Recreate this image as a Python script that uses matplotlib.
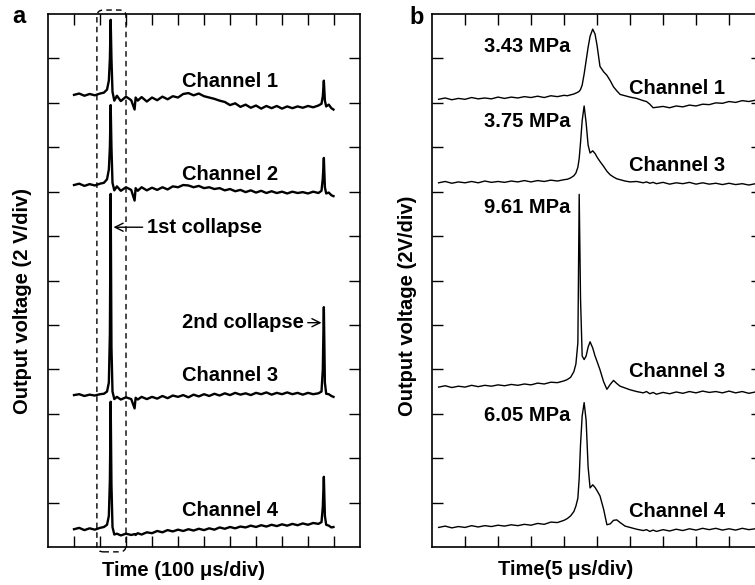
import matplotlib
matplotlib.use("Agg")
import matplotlib.pyplot as plt
from matplotlib.patches import FancyBboxPatch

plt.rcParams['font.family'] = ['Liberation Sans', 'DejaVu Sans']
plt.rcParams['font.weight'] = 'bold'

# ---- panel a: 100 us/div, 2 V/div (values in divisions) ----
time_a = [1.0, 1.2, 1.4, 1.6, 1.8, 2.0,
          2.15, 2.27, 2.34, 2.38, 2.41, 2.44, 2.48, 2.55, 2.65,
          2.8, 3.0, 3.2,
          3.33, 3.37, 3.45,
          3.6, 3.8,
          4.0, 4.2, 4.4, 4.6, 4.8, 5.0, 5.2, 5.4, 5.6, 5.8, 6.0, 6.2, 6.4, 6.6, 6.8,
          7.0, 7.2, 7.4, 7.6, 7.8, 8.0, 8.2, 8.4, 8.6, 8.8, 9.0, 9.2, 9.4, 9.6, 9.8,
          10.0, 10.2, 10.4,
          10.52, 10.57, 10.61, 10.65, 10.7,
          10.8, 10.9, 10.98]

ch1_a = [10.18, 10.21, 10.16, 10.20, 10.17, 10.21,
         10.23, 10.30, 10.50, 11.0, 11.87, 11.0, 10.25, 10.05, 10.16,
         10.04, 10.14, 10.06,
         9.85, 10.12, 10.05,
         10.13, 10.03,
         10.12, 10.06, 10.14, 10.08, 10.15, 10.12, 10.20, 10.22, 10.17, 10.21, 10.15, 10.12, 10.09, 10.05, 10.02,
         9.95, 9.99, 9.91, 9.96, 9.89, 9.94, 9.87, 9.93, 9.88, 9.93, 9.87, 9.92, 9.88, 9.92, 9.89,
         9.93, 9.90, 9.94,
         9.98, 10.15, 10.5, 10.05, 9.92,
         9.96, 9.88, 9.85]

ch2_a = [8.15, 8.18, 8.13, 8.17, 8.14, 8.18,
         8.20, 8.28, 8.50, 9.0, 9.95, 9.0, 8.20, 8.03, 8.12,
         8.02, 8.10, 8.04,
         7.80, 8.08, 8.02,
         8.10, 8.03,
         8.09, 8.04, 8.10, 8.05, 8.12, 8.10, 8.15, 8.14, 8.10, 8.13, 8.08, 8.10, 8.06, 8.08, 8.03,
         8.06, 8.01, 8.04, 7.99, 8.03, 7.98, 8.02, 7.97, 8.01, 7.97, 8.00, 7.96, 8.00, 7.97, 7.99,
         7.96, 8.00, 7.97,
         8.02, 8.30, 8.76, 8.10, 7.96,
         7.98, 7.92, 7.90]

ch3_a = [3.42, 3.44, 3.40, 3.43, 3.41, 3.44,
         3.45, 3.50, 3.70, 4.80, 7.95, 4.50, 3.50, 3.33, 3.38,
         3.32, 3.37, 3.33,
         3.12, 3.36, 3.32,
         3.38, 3.33,
         3.38, 3.34, 3.40, 3.35, 3.41, 3.38, 3.42, 3.37, 3.43, 3.39, 3.44, 3.40, 3.45, 3.41, 3.46,
         3.42, 3.47, 3.43, 3.46, 3.42, 3.47, 3.44, 3.48, 3.43, 3.47, 3.44, 3.48, 3.44, 3.47, 3.43,
         3.47, 3.44, 3.46,
         3.50, 4.00, 5.40, 3.70, 3.45,
         3.44, 3.40, 3.38]

ch4_a = [0.40, 0.43, 0.38, 0.42, 0.39, 0.43,
         0.45, 0.50, 0.70, 1.50, 3.27, 1.40, 0.45, 0.28, 0.30,
         0.26, 0.30, 0.27,
         0.29, 0.27, 0.31,
         0.28, 0.33,
         0.31, 0.36, 0.33, 0.38, 0.35, 0.39, 0.36, 0.40, 0.37, 0.41, 0.38, 0.42, 0.39, 0.44, 0.41,
         0.45, 0.42, 0.46, 0.44, 0.48, 0.45, 0.49, 0.46, 0.50, 0.47, 0.51, 0.48, 0.52, 0.49, 0.53,
         0.50, 0.54, 0.52,
         0.56, 0.90, 1.58, 0.70, 0.50,
         0.48, 0.44, 0.45]

labels_a = ["Channel 1", "Channel 2", "Channel 3", "Channel 4"]

# ---- panel b: 5 us/div, 2 V/div ----
time_b = [0.2, 0.4, 0.6, 0.8, 1.0, 1.2, 1.4, 1.6, 1.8, 2.0, 2.2, 2.4, 2.6, 2.8, 3.0, 3.2, 3.4, 3.6, 3.8, 4.0,
          4.1, 4.2, 4.3, 4.36, 4.42, 4.46, 4.5, 4.55, 4.61, 4.67, 4.73, 4.79, 4.87, 4.94, 5.0, 5.09, 5.2, 5.3, 5.4, 5.5,
          5.6, 5.7, 5.85, 6.0, 6.2, 6.4, 6.5, 6.6, 6.7, 6.8, 7.0, 7.2, 7.4, 7.6, 7.8, 8.0, 8.2, 8.4, 8.6, 8.8,
          9.0, 9.2, 9.4, 9.6, 9.8, 10.0]

ch1_b = [10.08, 10.11, 10.07, 10.10, 10.08, 10.12, 10.09, 10.11, 10.09, 10.13, 10.10, 10.13, 10.11, 10.14, 10.12, 10.15, 10.12, 10.16, 10.14, 10.17,
         10.16, 10.18, 10.20, 10.22, 10.24, 10.26, 10.30, 10.40, 10.65, 10.95, 11.25, 11.50, 11.66, 11.55, 11.30, 10.82, 10.70, 10.62, 10.50, 10.36,
         10.27, 10.19, 10.16, 10.13, 10.10, 10.05, 10.03, 9.97, 9.89, 9.90, 9.92, 9.89, 9.93, 9.91, 9.95, 9.93, 9.97, 9.96, 10.00, 9.99,
         10.03, 10.01, 10.05, 10.03, 10.06, 10.05]

ch3_b_top = [8.20, 8.23, 8.19, 8.22, 8.20, 8.23, 8.20, 8.24, 8.21, 8.23, 8.21, 8.24, 8.22, 8.25, 8.22, 8.25, 8.23, 8.26, 8.24, 8.27,
             8.28, 8.31, 8.36, 8.42, 8.55, 8.75, 9.10, 9.60, 9.93, 9.55, 9.05, 8.87, 8.92, 8.86, 8.78, 8.68, 8.57, 8.46, 8.38, 8.33,
             8.29, 8.27, 8.24, 8.22, 8.23, 8.20, 8.22, 8.19, 8.21, 8.18, 8.21, 8.17, 8.20, 8.18, 8.21, 8.17, 8.20, 8.17, 8.19, 8.16,
             8.19, 8.16, 8.18, 8.15, 8.18, 8.16]

ch3_b = [3.60, 3.63, 3.59, 3.62, 3.60, 3.64, 3.61, 3.64, 3.62, 3.65, 3.63, 3.66, 3.64, 3.67, 3.65, 3.69, 3.67, 3.71, 3.70, 3.74,
         3.77, 3.82, 3.95, 4.12, 4.60, 7.94, 5.60, 4.30, 4.22, 4.30, 4.50, 4.62, 4.48, 4.30, 4.18, 3.99, 3.72, 3.55, 3.66, 3.75,
         3.68, 3.62, 3.58, 3.54, 3.50, 3.47, 3.50, 3.45, 3.48, 3.44, 3.48, 3.45, 3.49, 3.46, 3.50, 3.47, 3.51, 3.48, 3.50, 3.47,
         3.51, 3.47, 3.50, 3.46, 3.49, 3.47]

ch4_b = [0.44, 0.47, 0.43, 0.46, 0.44, 0.48, 0.45, 0.48, 0.46, 0.49, 0.47, 0.50, 0.48, 0.51, 0.49, 0.53, 0.51, 0.56, 0.55, 0.60,
         0.64, 0.70, 0.80, 0.92, 1.10, 1.55, 2.30, 2.95, 3.25, 2.85, 1.80, 1.33, 1.40, 1.34, 1.27, 1.15, 0.85, 0.50, 0.52, 0.60,
         0.61, 0.55, 0.47, 0.44, 0.40, 0.37, 0.39, 0.35, 0.38, 0.35, 0.39, 0.36, 0.40, 0.37, 0.41, 0.38, 0.42, 0.39, 0.42, 0.38,
         0.41, 0.38, 0.42, 0.39, 0.41, 0.38]

labels_b = ["Channel 1", "Channel 3", "Channel 3", "Channel 4"]
pressures_b = ["3.43 MPa", "3.75 MPa", "9.61 MPa", "6.05 MPa"]

FS = 14.5

fig = plt.figure(figsize=(7.55, 5.85), dpi=100)
ax1 = fig.add_axes([0.0636, 0.065, 0.4132, 0.911])
ax2 = fig.add_axes([0.5722, 0.065, 0.4371, 0.911])


def style_axes(ax, nx):
    ax.set_xlim(0, nx)
    ax.set_ylim(0, 12)
    ax.set_xticks(range(1, nx))
    ax.set_yticks(range(1, 12))
    ax.tick_params(direction="in", length=8, width=1, top=True, right=True,
                   labelbottom=False, labelleft=False)
    for s in ax.spines.values():
        s.set_linewidth(1.2)


style_axes(ax1, 12)
style_axes(ax2, 10)

# panel a traces
for ys in [ch1_a, ch2_a, ch3_a, ch4_a]:
    ax1.plot(time_a, ys, color="black", lw=1.7)

for lab, y in zip(labels_a, [10.47, 8.38, 3.87, 0.83]):
    ax1.text(7.0, y, lab, ha="center", va="center", fontsize=FS, fontweight="bold")

# dashed box round the first collapse
box = FancyBboxPatch((1.88, -0.11), 3.0 - 1.88, 12.2, boxstyle="round,pad=0,rounding_size=0.25",
                     mutation_aspect=0.58, fill=False, ls=(0, (4, 3)), lw=1, ec="black", clip_on=False)
ax1.add_patch(box)

ax1.annotate("1st collapse", xy=(2.52, 7.2), xytext=(3.8, 7.2), ha="left", va="center",
             fontsize=FS, fontweight="bold",
             arrowprops=dict(arrowstyle="->", lw=1, color="black", shrinkA=1, shrinkB=0))
ax1.annotate("2nd collapse", xy=(10.52, 5.05), xytext=(9.83, 5.05), ha="right", va="center",
             fontsize=FS, fontweight="bold",
             arrowprops=dict(arrowstyle="->", lw=1, color="black", shrinkA=1, shrinkB=0))

# panel b traces
for ys in [ch1_b, ch3_b_top, ch3_b, ch4_b]:
    ax2.plot(time_b, ys, color="black", lw=1.0)

for lab, y in zip(labels_b, [10.32, 8.6, 3.94, 0.79]):
    ax2.text(7.42, y, lab, ha="center", va="center", fontsize=FS, fontweight="bold")
for lab, y in zip(pressures_b, [11.28, 9.57, 7.64, 2.97]):
    ax2.text(2.88, y, lab, ha="center", va="center", fontsize=FS, fontweight="bold")

fig.text(0.2437, 0.024, "Time (100 \u03bcs/div)", ha="center", va="center", fontsize=FS, fontweight="bold")
fig.text(0.7497, 0.027, "Time(5 \u03bcs/div)", ha="center", va="center", fontsize=FS, fontweight="bold")
fig.text(0.030, 0.485, "Output voltage (2 V/div)", rotation=90, ha="center", va="center",
         fontsize=FS, fontweight="bold")
fig.text(0.540, 0.478, "Output voltage (2V/div)", rotation=90, ha="center", va="center",
         fontsize=FS, fontweight="bold")

fig.text(0.025, 0.972, "a", ha="center", va="center", fontsize=17, fontweight="bold")
fig.text(0.552, 0.970, "b", ha="center", va="center", fontsize=17, fontweight="bold")

fig.savefig("out.png", dpi=100)
